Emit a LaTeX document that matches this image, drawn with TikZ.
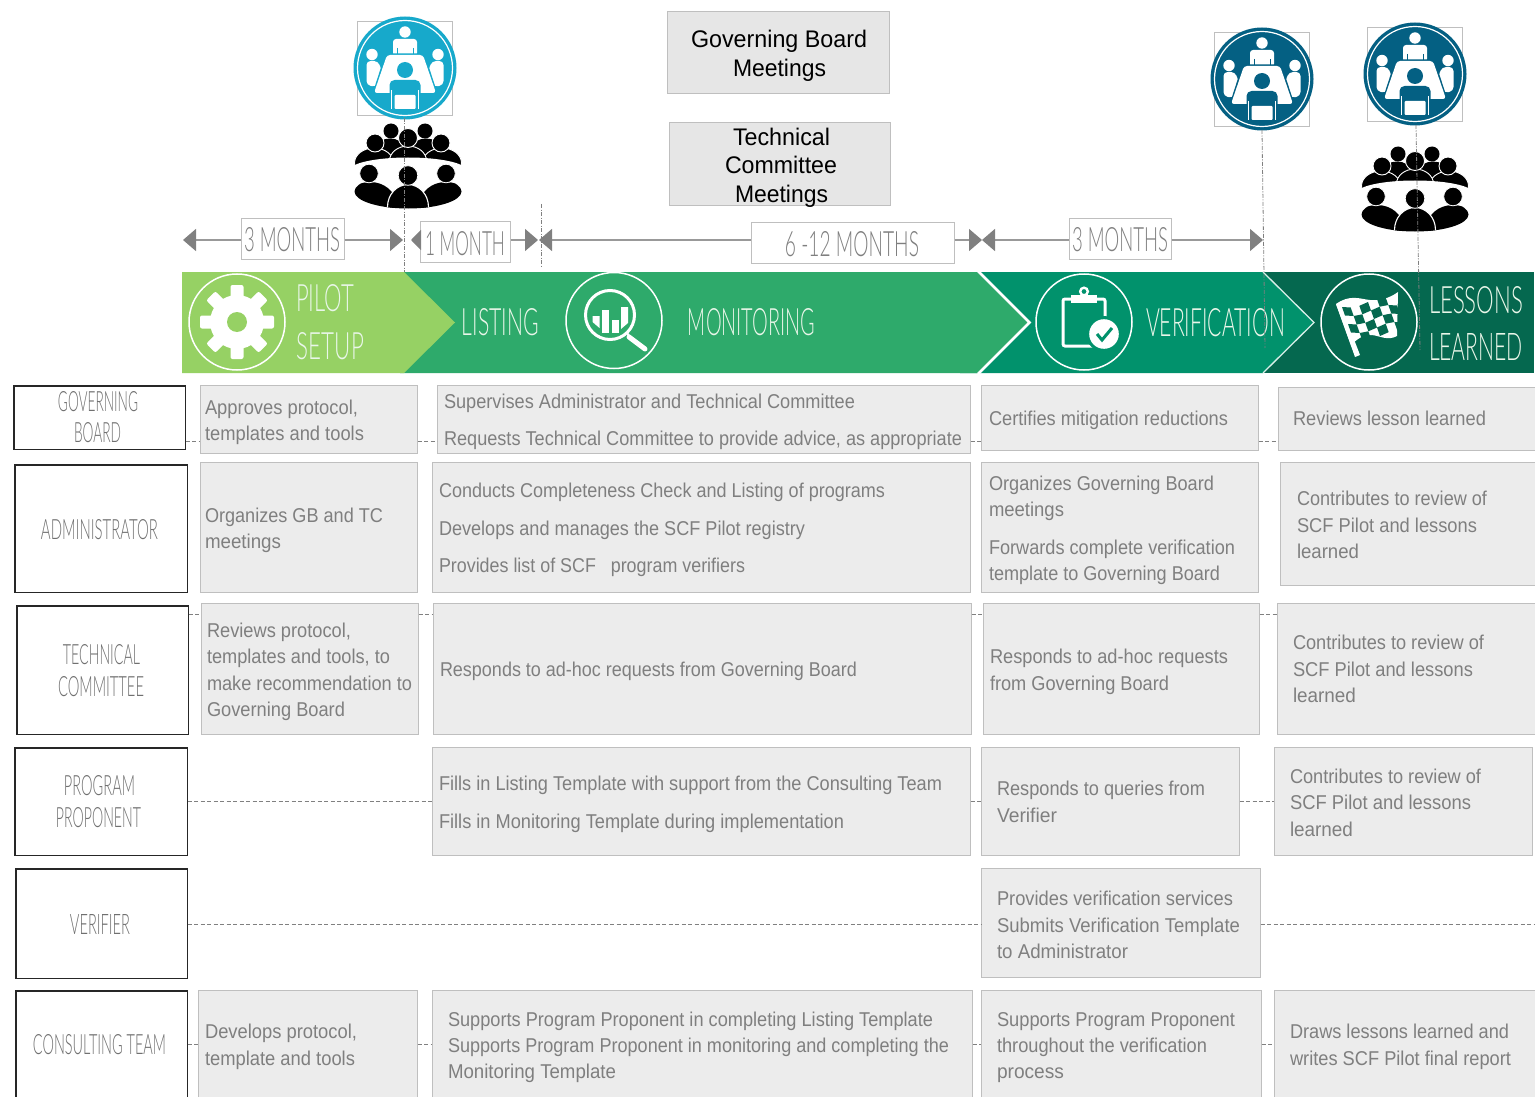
\documentclass[tikz,border=0pt]{standalone}
\usepackage{graphicx}
\usepackage{fontspec}
\setmainfont{Liberation Sans}
\newfontfamily\thinfont{Lato Light}
\usetikzlibrary{arrows.meta,calc}
\definecolor{txtg}{HTML}{7F7F7F}
\definecolor{rolet}{HTML}{707070}
\definecolor{boxf}{HTML}{ECECEC}
\definecolor{boxd}{HTML}{BFBFBF}
\definecolor{topf}{HTML}{E6E6E6}
\definecolor{cpilot}{HTML}{96D164}
\definecolor{cmon}{HTML}{2EAA6B}
\definecolor{cver}{HTML}{01926C}
\definecolor{cles}{HTML}{05684F}
\definecolor{clight}{HTML}{17A9CB}
\definecolor{cdark}{HTML}{046083}
\definecolor{tipc}{HTML}{808080}
\definecolor{linec}{HTML}{999999}
\tikzset{
  x=1pt,y=-1pt,
  gridbox/.style={draw=boxd,fill=boxf,line width=0.9pt,inner sep=0pt,outer sep=0pt,anchor=north west},
  topbox/.style={draw=boxd,fill=topf,line width=0.9pt,inner sep=0pt,outer sep=0pt,anchor=north west},
  rolebox/.style={draw=black!85,fill=white,line width=1.2pt,inner sep=0pt,outer sep=0pt,anchor=north west},
  timebox/.style={draw=boxd,fill=white,line width=0.9pt,inner sep=0pt,outer sep=0pt,anchor=north west},
  capline/.style={inner sep=0pt,outer sep=0pt,anchor=center},
  bodyline/.style={inner sep=0pt,outer sep=0pt,anchor=base west,text=txtg,font=\fontsize{20}{24}\selectfont},
  topline/.style={inner sep=0pt,outer sep=0pt,anchor=base west,text=black,font=\fontsize{24}{28}\selectfont},
  dashlink/.style={draw=tipc,line width=0.8pt,dash pattern=on 4pt off 2.5pt},
  mark line/.style={draw=tipc,line width=0.8pt,dash pattern=on 4pt off 1.5pt on 1pt off 1.5pt},
  timeline/.style={draw=linec,line width=1.5pt},
  tipped/.style={timeline,-{Triangle[length=13pt,width=22pt,color=tipc,fill=tipc]}},
  smalltip/.style={timeline,-{Triangle[length=10pt,width=20pt,color=tipc,fill=tipc]}},
  pics/meeting/.style={code={
    \draw[boxd,line width=0.8pt] (-47.5,-47) rectangle (47.5,47);
    \fill[#1] (0,0) circle (51.5);
    \draw[white,line width=1.2pt] (0,0) circle (47.5);
    % top person
    \fill[white] (0,-36) circle (5.7);
    \fill[white,rounded corners=3pt] (-12,-12) -- (-12,-29) -- (12,-29) -- (12,-12) -- cycle;
    \draw[#1,line width=1pt] (-8,-20) -- (-8,-12) (8,-20) -- (8,-12);
    % side persons
    \fill[white] (-33,-13.5) circle (5.7);
    \fill[white] (33,-13.5) circle (5.7);
    \fill[white,rounded corners=4pt] (-38.5,-7) -- (-27,-7) -- (-22,6) -- (-29,19) -- (-38.5,17) -- cycle;
    \fill[white,rounded corners=4pt] (38.5,-7) -- (27,-7) -- (22,6) -- (29,19) -- (38.5,17) -- cycle;
    % table
    \fill[#1] (-19.5,-14.5) -- (19.5,-14.5) -- (33,27) -- (-33,27) -- cycle;
    \fill[white,rounded corners=3pt] (-18,-13) -- (18,-13) -- (31,25) -- (-31,25) -- cycle;
    % front person
    \fill[#1] (0,2) circle (8);
    \fill[#1,rounded corners=5pt] (-15.5,30) -- (-15.5,12) -- (15.5,12) -- (15.5,30) -- cycle;
    \fill[#1] (-15.5,25) rectangle (15.5,42);
    \fill[white,rounded corners=1pt] (-10.5,27) rectangle (10.5,41);
    \draw[white,line width=1.3pt] (-13.5,22) -- (-13.5,41) (13.5,22) -- (13.5,41);
  }},
  pics/crowd/.style={code={
    % rear row
    \fill[black] (-17,-37) circle (7.5);
    \fill[black] (17,-37) circle (7.5);
    \fill[black] (-18,-21) ellipse (13 and 8.5);
    \fill[black] (18,-21) ellipse (13 and 8.5);
    % middle row
    \filldraw[black,draw=white,line width=0.9pt] (-34,-5) ellipse (19.5 and 15);
    \filldraw[black,draw=white,line width=0.9pt] (34,-5) ellipse (19.5 and 15);
    \filldraw[black,draw=white,line width=0.9pt] (0,-7) ellipse (18.5 and 15);
    \filldraw[black,draw=white,line width=0.9pt] (-33,-25) circle (9);
    \filldraw[black,draw=white,line width=0.9pt] (33,-25) circle (9);
    \filldraw[black,draw=white,line width=0.9pt] (0,-30) circle (9.5);
    % table
    \fill[white] (0,2) ellipse (58 and 12.5);
    \fill[white] (-47,2) rectangle (47,14);
    % front row
    \begin{scope}
      \clip (0,23.5) ellipse (53.5 and 17);
      \fill[black] (-38,36) ellipse (26 and 22);
      \fill[black] (38,36) ellipse (26 and 22);
      \filldraw[black,draw=white,line width=1.1pt] (0,39) ellipse (20.5 and 22.5);
    \end{scope}
    \filldraw[black,draw=white,line width=0.8pt] (-39,5.5) circle (9.3);
    \filldraw[black,draw=white,line width=0.8pt] (38,5.5) circle (9.3);
    \filldraw[black,draw=white,line width=0.8pt] (0,7.5) circle (9.8);
  }},
}
% body line: name, x1, x2, baseline, text
\newcommand\bl[5]{\node[bodyline] (#1) at (#2,#4) {\resizebox{\dimexpr#3pt-#2pt\relax}{\height}{#5}};}
\newcommand\tpl[5]{\node[topline] (#1) at (#2,#4) {\resizebox{\dimexpr#3pt-#2pt\relax}{\height}{#5}};}
% thin caps line: name, x1, x2, centre y, cap height, text, colour
\newcommand\tl[7]{\node[capline,text=#7] (#1) at ({(#2+#3)/2},#4) {\resizebox{\dimexpr#3pt-#2pt\relax}{#5pt}{\thinfont #6}};}
% box: style, name, x1, y1, x2, y2
\newcommand\bx[6]{\pgfmathsetmacro\bw{#5-#3-0.5}\pgfmathsetmacro\bh{#6-#4-0.5}\node[#1,minimum width=\bw pt,minimum height=\bh pt] (#2) at (#3,#4) {};}
\begin{document}
\begin{tikzpicture}
\path[use as bounding box,clip] (0,0) rectangle (1535,1097);
\fill[white] (0,0) rectangle (1535,1097);

% top boxes
\bx{topbox}{gbm}{667}{11}{890}{94}
\tpl{gbma}{691}{867}{48}{Governing Board}
\tpl{gbmb}{733}{826}{77}{Meetings}
\bx{topbox}{tcm}{669}{122}{891}{206}
\tpl{tcma}{733}{830}{146}{Technical}
\tpl{tcmb}{725}{837}{174}{Committee}
\tpl{tcmc}{735}{828}{202}{Meetings}

% chevrons
\fill[cles] (1255,272) rectangle (1534,373);
\fill[cver] (960,272) -- (1263,272) -- (1314,322.5) -- (1263,373) -- (960,373) -- cycle;
\draw[white!85!cver,line width=1.3pt] (1263,272) -- (1314,322.5) -- (1263,373);
\fill[cmon] (400,272) -- (977,272) -- (1028,322.5) -- (977,373) -- (400,373) -- cycle;
\draw[white,line width=2.6pt] (978,271) -- (1029.5,322.5) -- (978,374);
\fill[cpilot] (182,272) -- (404,272) -- (455,322.5) -- (404,373) -- (182,373) -- cycle;

% chevron labels
\definecolor{bandt}{HTML}{E9F6E9}
\tl{lpilot}{296}{354}{298}{27}{PILOT}{bandt}
\tl{lsetup}{297}{364}{346}{27}{SETUP}{bandt}
\tl{llist}{462}{539}{322}{27}{LISTING}{bandt}
\tl{lmon}{688}{815}{322}{27}{MONITORING}{bandt}
\tl{lver}{1146}{1285}{323}{28}{VERIFICATION}{bandt}
\tl{lles}{1429}{1523}{300}{27}{LESSONS}{bandt}
\tl{llea}{1429}{1523}{347}{27}{LEARNED}{bandt}

% gear
\draw[white,line width=1.5pt] (237,322) circle (48);
\foreach \a in {0,45,...,315}{
  \fill[white,rotate around={\a:(237,322)},rounded corners=2pt] (230.5,285) rectangle (243.5,305);
}
\fill[white] (237,322) circle (27);
\fill[cpilot] (237,322) circle (10);

% magnifier
\draw[white,line width=1.5pt] (614,320.5) circle (48);
\draw[white,line width=3pt] (610,315) circle (24.5);
\fill[white] (592.5,316) -- (599.5,316) -- (599.5,328) -- (592.5,322) -- cycle;
\fill[white] (602,310) rectangle (609,333);
\fill[white] (612,320) rectangle (619,333);
\fill[white] (621,307) -- (628,307) -- (628,323) -- (621,329) -- cycle;
\draw[white,line width=5pt,line cap=round] (629,337) -- (645,349);
\draw[white,line width=2pt] (627,333) -- (631,338);

% clipboard
\draw[white,line width=1.5pt] (1084,322) circle (48);
\draw[white,line width=3pt,rounded corners=2pt] (1071,299) -- (1063,299) -- (1063,346) -- (1105,346) -- (1105,299) -- (1097,299);
\fill[white] (1071,295) rectangle (1097,303);
\draw[white,line width=2.4pt] (1084,291.5) circle (3.8);
\fill[cver] (1104,334) circle (18);
\fill[white] (1104,334) circle (14.8);
\draw[cver,line width=3pt] (1097,334) -- (1102,340) -- (1112,328);

% flag
\draw[white,line width=1.5pt] (1369,322) circle (48);
\fill[white] (1336,304) .. controls (1350,294) and (1360,299) .. (1370,300) .. controls (1380,301) and (1390,298) .. (1398,292) -- (1397,336) .. controls (1388,341) and (1380,336) .. (1372,335) .. controls (1365,334) and (1358,338) .. (1351,345) -- cycle;
\fill[white] (1336,304) -- (1340,303) -- (1360,355) -- (1355,357) -- cycle;
\foreach \i in {0,...,5}{\foreach \j in {0,...,3}{
  \pgfmathparse{int(mod(\i+\j,2))}
  \ifnum\pgfmathresult=0
  \pgfmathsetmacro\ua{\i/6}\pgfmathsetmacro\ub{(\i+1)/6}\pgfmathsetmacro\va{\j/4}\pgfmathsetmacro\vb{(\j+1)/4}
  \fill[cles] ({1342+\ua*52+\va*12},{307-\ua*10+\va*34+2.5*sin(\ua*360)})
    -- ({1342+\ub*52+\va*12},{307-\ub*10+\va*34+2.5*sin(\ub*360)})
    -- ({1342+\ub*52+\vb*12},{307-\ub*10+\vb*34+2.5*sin(\ub*360)})
    -- ({1342+\ua*52+\vb*12},{307-\ua*10+\vb*34+2.5*sin(\ua*360)}) -- cycle;
  \fi
}}

% meeting icons
\pic at (405,68) {meeting=clight};
\pic at (1262,79) {meeting=cdark};
\pic at (1415,74) {meeting=cdark};
\pic at (408,168) {crowd};
\pic at (1415,191) {crowd};

% time marks
\draw[mark line] (404,118) -- (404,272);
\draw[mark line] (541,204) -- (541,267);
\draw[mark line] (1262,130) -- (1265,348);
\draw[mark line] (1416,125) -- (1420,350);

% timeline boxes
\bx{timebox}{ta}{241}{218}{345}{260}
\bx{timebox}{tb}{420}{221}{511}{263}
\bx{timebox}{tc}{751}{222}{955}{264}
\bx{timebox}{td}{1069}{218}{1172}{260}
\tl{tat}{244}{340}{240}{24}{3 MONTHS}{txtg}
\tl{tbt}{425}{505}{244}{24}{1 MONTH}{txtg}
\tl{tct}{785}{919}{244.5}{25}{6 -12 MONTHS}{txtg}
\tl{tdt}{1072}{1168}{240}{24}{3 MONTHS}{txtg}
\coordinate (p1) at (183,240);
\coordinate (p2) at (403,240);
\coordinate (p3) at (411,240);
\coordinate (p4) at (538,240);
\coordinate (p5) at (539,240);
\coordinate (p6) at (982,240);
\coordinate (p7) at (1263,240);
\draw[tipped] (ta.west |- p1) -- (p1);
\draw[tipped] (ta.east |- p2) -- (p2);
\draw[smalltip] (tb.west |- p3) -- (p3);
\draw[tipped] (tb.east |- p4) -- (p4);
\draw[tipped] (tc.west |- p5) -- (p5);
\draw[tipped] (tc.east |- p6) -- (p6);
\draw[tipped] (td.west |- p6) -- (p6);
\draw[tipped] (td.east |- p7) -- (p7);

% role boxes
\bx{rolebox}{rgb}{14}{386}{186}{450}
\bx{rolebox}{rad}{15}{465}{188}{593}
\bx{rolebox}{rtc}{17}{606}{189}{735}
\bx{rolebox}{rpp}{15}{748}{188}{856}
\bx{rolebox}{rve}{16}{869}{188}{979}
\bx{rolebox}{rct}{16}{991}{188}{1104}
\tl{rgba}{58}{138}{402}{20}{GOVERNING}{rolet}
\tl{rgbb}{74}{121}{433}{20}{BOARD}{rolet}
\tl{rada}{41}{158}{530}{20}{ADMINISTRATOR}{rolet}
\tl{rtca}{63}{140}{655}{20}{TECHNICAL}{rolet}
\tl{rtcb}{58}{144}{687}{20}{COMMITTEE}{rolet}
\tl{rppa}{64}{135}{786}{20}{PROGRAM}{rolet}
\tl{rppb}{56}{141}{818}{20}{PROPONENT}{rolet}
\tl{rvea}{70}{130}{924}{20}{VERIFIER}{rolet}
\tl{rcta}{33}{166}{1045}{20}{CONSULTING TEAM}{rolet}

% grid boxes
\bx{gridbox}{a1}{200}{385}{418}{454}
\bx{gridbox}{a2}{437}{385}{971}{454}
\bx{gridbox}{a3}{981}{385}{1259}{451}
\bx{gridbox}{a4}{1278}{387}{1540}{451}
\bx{gridbox}{b1}{200}{462}{418}{593}
\bx{gridbox}{b2}{432}{462}{971}{593}
\bx{gridbox}{b3}{981}{462}{1259}{593}
\bx{gridbox}{b4}{1280}{462}{1540}{586}
\bx{gridbox}{c1}{201}{603}{419}{735}
\bx{gridbox}{c2}{433}{603}{972}{735}
\bx{gridbox}{c3}{983}{603}{1260}{735}
\bx{gridbox}{c4}{1277}{603}{1540}{735}
\bx{gridbox}{d2}{432}{747}{971}{856}
\bx{gridbox}{d3}{981}{747}{1240}{856}
\bx{gridbox}{d4}{1274}{747}{1533}{856}
\bx{gridbox}{e3}{981}{868}{1261}{978}
\bx{gridbox}{f1}{198}{990}{418}{1104}
\bx{gridbox}{f2}{432}{990}{973}{1104}
\bx{gridbox}{f3}{981}{990}{1262}{1104}
\bx{gridbox}{f4}{1274}{990}{1540}{1104}
\coordinate (edge) at (1535,924);

% connectors
\coordinate (ya) at (0,441);
\coordinate (yc) at (0,614);
\coordinate (yd) at (0,801);
\coordinate (ye) at (0,924);
\coordinate (yf) at (0,1044);
\draw[dashlink] (rgb.east |- ya) -- (a1.west |- ya);
\draw[dashlink] (a1.east |- ya) -- (a2.west |- ya);
\draw[dashlink] (a2.east |- ya) -- (a3.west |- ya);
\draw[dashlink] (a3.east |- ya) -- (a4.west |- ya);
\draw[dashlink] (rtc.east |- yc) -- (c1.west |- yc);
\draw[dashlink] (c1.east |- yc) -- (c2.west |- yc);
\draw[dashlink] (c2.east |- yc) -- (c3.west |- yc);
\draw[dashlink] (c3.east |- yc) -- (c4.west |- yc);
\draw[dashlink] (rpp.east |- yd) -- (d2.west |- yd);
\draw[dashlink] (d2.east |- yd) -- (d3.west |- yd);
\draw[dashlink] (d3.east |- yd) -- (d4.west |- yd);
\draw[dashlink] (rve.east |- ye) -- (e3.west |- ye);
\draw[dashlink] (e3.east |- ye) -- (edge);
\draw[dashlink] (rct.east |- yf) -- (f1.west |- yf);
\draw[dashlink] (f1.east |- yf) -- (f2.west |- yf);
\draw[dashlink] (f2.east |- yf) -- (f3.west |- yf);
\draw[dashlink] (f3.east |- yf) -- (f4.west |- yf);

% grid text
\bl{a1a}{205}{358}{414.5}{Approves protocol,}
\bl{a1b}{205}{364}{440.5}{templates and tools}
\bl{a2a}{444}{855}{408.5}{Supervises Administrator and Technical Committee}
\bl{a2b}{444}{962}{445.5}{Requests Technical Committee to provide advice, as appropriate}
\bl{a3a}{989}{1228}{425.5}{Certifies mitigation reductions}
\bl{a4a}{1293}{1486}{425.5}{Reviews lesson learned}
\bl{b1a}{205}{383}{522}{Organizes GB and TC}
\bl{b1b}{205}{281}{548}{meetings}
\bl{b2a}{439}{885}{497.5}{Conducts Completeness Check and Listing of programs}
\bl{b2b}{439}{805}{535.5}{Develops and manages the SCF Pilot registry}
\bl{b2c}{439}{745}{572.5}{Provides list of SCF\ \ \ program verifiers}
\bl{b3a}{989}{1214}{490}{Organizes Governing Board}
\bl{b3b}{989}{1064}{516}{meetings}
\bl{b3c}{989}{1235}{554.5}{Forwards complete verification}
\bl{b3d}{989}{1220}{580.5}{template to Governing Board}
\bl{b4a}{1297}{1487}{505.5}{Contributes to review of}
\bl{b4b}{1297}{1477}{532.5}{SCF Pilot and lessons}
\bl{b4c}{1297}{1359}{558.5}{learned}
\bl{c1a}{207}{351}{637}{Reviews protocol,}
\bl{c1b}{207}{390}{663}{templates and tools, to}
\bl{c1c}{207}{412}{690}{make recommendation to}
\bl{c1d}{207}{345}{716}{Governing Board}
\bl{c2a}{440}{857}{676}{Responds to ad-hoc requests from Governing Board}
\bl{c3a}{990}{1228}{663}{Responds to ad-hoc requests}
\bl{c3b}{990}{1169}{690}{from Governing Board}
\bl{c4a}{1293}{1484}{649}{Contributes to review of}
\bl{c4b}{1293}{1473}{676}{SCF Pilot and lessons}
\bl{c4c}{1293}{1356}{702}{learned}
\bl{d2a}{439}{942}{790}{Fills in Listing Template with support from the Consulting Team}
\bl{d2b}{439}{844}{828}{Fills in Monitoring Template during implementation}
\bl{d3a}{997}{1205}{795}{Responds to queries from}
\bl{d3b}{997}{1057}{822}{Verifier}
\bl{d4a}{1290}{1481}{783}{Contributes to review of}
\bl{d4b}{1290}{1471}{809}{SCF Pilot and lessons}
\bl{d4c}{1290}{1353}{836}{learned}
\bl{e3a}{997}{1233}{905}{Provides verification services}
\bl{e3b}{997}{1240}{932}{Submits Verification Template}
\bl{e3c}{997}{1128}{958}{to Administrator}
\bl{f1a}{205}{357}{1038}{Develops protocol,}
\bl{f1b}{205}{355}{1065}{template and tools}
\bl{f2a}{448}{933}{1026}{Supports Program Proponent in completing Listing Template}
\bl{f2b}{448}{949}{1052}{Supports Program Proponent in monitoring and completing the}
\bl{f2c}{448}{616}{1078}{Monitoring Template}
\bl{f3a}{997}{1235}{1026}{Supports Program Proponent}
\bl{f3b}{997}{1207}{1052}{throughout the verification}
\bl{f3c}{997}{1064}{1078}{process}
\bl{f4a}{1290}{1509}{1038}{Draws lessons learned and}
\bl{f4b}{1290}{1511}{1065}{writes SCF Pilot final report}
\end{tikzpicture}
\end{document}
